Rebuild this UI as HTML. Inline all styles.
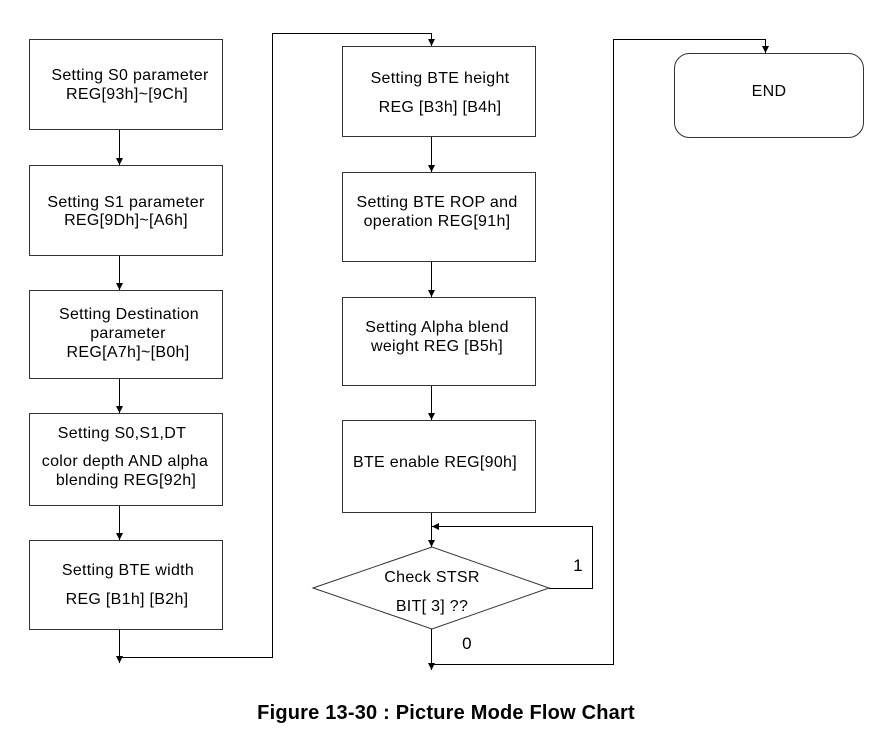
<!DOCTYPE html>
<html><head><meta charset="utf-8"><style>
html,body{margin:0;padding:0;background:#fff;}
</style></head><body>
<svg width="880" height="740" xmlns="http://www.w3.org/2000/svg" style="display:block">
<defs><marker id="a" markerWidth="8" markerHeight="8" refX="7" refY="4" orient="auto" markerUnits="userSpaceOnUse"><path d="M0,0.5 L7,4 L0,7.5 Z" fill="#000"/></marker></defs>
<g fill="#fff" stroke="#333" stroke-width="1">
<rect x="29.5" y="39.5" width="193" height="90"/>
<rect x="29.5" y="165.5" width="193" height="90"/>
<rect x="29.5" y="290.5" width="193" height="88"/>
<rect x="29.5" y="413.5" width="193" height="92"/>
<rect x="29.5" y="540.5" width="193" height="89"/>
<rect x="342.5" y="46.5" width="193" height="90"/>
<rect x="342.5" y="172.5" width="193" height="89"/>
<rect x="342.5" y="297.5" width="193" height="88"/>
<rect x="342.5" y="420.5" width="193" height="92"/>
<rect x="674.5" y="53.5" width="189" height="84" rx="15"/>
<polygon points="313,588 432,547 549,588 432,629"/>
</g>
<g stroke="#000" stroke-width="1" fill="none">
<line x1="119.5" y1="130" x2="119.5" y2="165" marker-end="url(#a)"/>
<line x1="119.5" y1="256" x2="119.5" y2="290" marker-end="url(#a)"/>
<line x1="119.5" y1="379" x2="119.5" y2="413" marker-end="url(#a)"/>
<line x1="119.5" y1="506" x2="119.5" y2="540" marker-end="url(#a)"/>
<line x1="119.5" y1="630" x2="119.5" y2="663" marker-end="url(#a)"/>
<polyline points="119.5,657.5 272.5,657.5 272.5,33.5 431.5,33.5 431.5,46" marker-end="url(#a)"/>
<line x1="431.5" y1="137" x2="431.5" y2="172" marker-end="url(#a)"/>
<line x1="431.5" y1="262" x2="431.5" y2="297" marker-end="url(#a)"/>
<line x1="431.5" y1="386" x2="431.5" y2="420" marker-end="url(#a)"/>
<line x1="431.5" y1="513" x2="431.5" y2="547" marker-end="url(#a)"/>
<polyline points="549,588.5 592.5,588.5 592.5,526.5 432,526.5" marker-end="url(#a)"/>
<line x1="431.5" y1="629" x2="431.5" y2="670" marker-end="url(#a)"/>
<polyline points="431.5,664.5 613.5,664.5 613.5,39.5 765.5,39.5 765.5,53" marker-end="url(#a)"/>
</g>
<g font-family="Liberation Sans, Arial, sans-serif" font-size="16" letter-spacing="0.3" fill="#000" text-anchor="middle">
<text x="130" y="80">Setting S0 parameter</text><text x="127" y="99">REG[93h]~[9Ch]</text>
<text x="126" y="207">Setting S1 parameter</text><text x="126" y="225">REG[9Dh]~[A6h]</text>
<text x="129" y="319">Setting Destination</text><text x="128" y="338">parameter</text><text x="128" y="357">REG[A7h]~[B0h]</text>
<text x="122" y="438">Setting S0,S1,DT</text><text x="125" y="466">color depth AND alpha</text><text x="126" y="485">blending REG[92h]</text>
<text x="128" y="575">Setting BTE width</text><text x="127" y="604">REG [B1h] [B2h]</text>
<text x="440" y="83">Setting BTE height</text><text x="440" y="112">REG [B3h] [B4h]</text>
<text x="437" y="207">Setting BTE ROP and</text><text x="437" y="226">operation REG[91h]</text>
<text x="437" y="332">Setting Alpha blend</text><text x="437" y="351">weight REG [B5h]</text>
<text x="435" y="467">BTE enable REG[90h]</text>
<text x="432" y="582">Check STSR</text><text x="432" y="611">BIT[ 3] ??</text>
<text x="578" y="571" font-size="17">1</text><text x="467" y="649" font-size="17">0</text>
<text x="769" y="96">END</text>
<text x="446" y="719" font-weight="bold" font-size="20" letter-spacing="0.2">Figure 13-30 : Picture Mode Flow Chart</text>
</g>
</svg>
</body></html>
